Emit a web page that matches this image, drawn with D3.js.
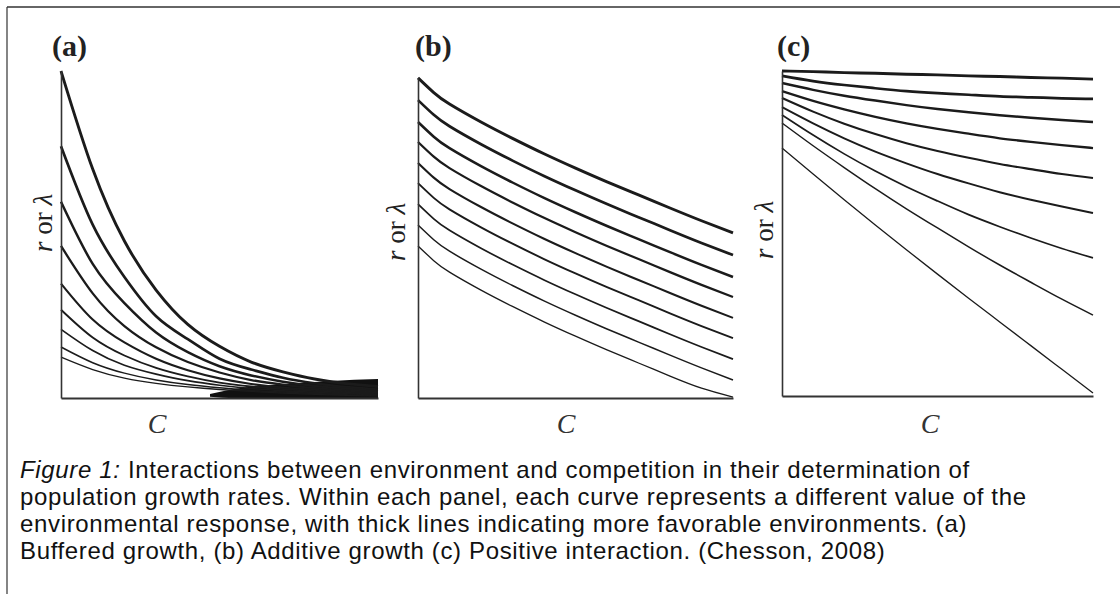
<!DOCTYPE html>
<html lang="en">
<head>
<meta charset="utf-8">
<title>Environment x competition (Chesson 2008)</title>
<script src="https://d3js.org/d3.v7.min.js"></script>
<style>
  body { margin: 0; background: #fff; }
</style>
</head>
<body>
<script>
var W = 1120, H = 594;

// competition C, sampled positions along each curve
var cGridA = [0, 0.1, 0.2, 0.3, 0.4, 0.5, 0.6, 0.7, 0.8, 0.9, 1];
var cGridB = [0, 0.05, 0.1, 0.2, 0.3, 0.4, 0.5, 0.6, 0.7, 0.8, 0.9, 1];
var cGridC = [0, 0.1, 0.2, 0.3, 0.4, 0.5, 0.6, 0.7, 0.8, 0.9, 1];

// (a) buffered growth, r or lambda per curve (most favourable first)
var curvesA = [
  [1.00, 0.70, 0.48, 0.33, 0.225, 0.158, 0.110, 0.080, 0.058, 0.044, 0.035],
  [0.77, 0.53, 0.37, 0.25, 0.180, 0.120, 0.087, 0.062, 0.045, 0.033, 0.026],
  [0.60, 0.41, 0.29, 0.20, 0.140, 0.097, 0.069, 0.050, 0.037, 0.028, 0.021],
  [0.465, 0.32, 0.22, 0.155, 0.110, 0.078, 0.055, 0.041, 0.030, 0.023, 0.018],
  [0.35, 0.24, 0.17, 0.12, 0.085, 0.060, 0.043, 0.032, 0.025, 0.019, 0.015],
  [0.27, 0.185, 0.13, 0.092, 0.066, 0.047, 0.035, 0.027, 0.021, 0.016, 0.012],
  [0.21, 0.145, 0.10, 0.073, 0.053, 0.039, 0.029, 0.022, 0.017, 0.013, 0.010],
  [0.156, 0.108, 0.076, 0.055, 0.041, 0.031, 0.023, 0.018, 0.014, 0.010, 0.008],
  [0.125, 0.087, 0.061, 0.045, 0.034, 0.026, 0.020, 0.015, 0.011, 0.008, 0.006]
];
// the ink smudge under the converging curves of (a): [C, low, high]
var smudgeA = [[0.47, 0.004, 0.012], [0.55, 0.0, 0.028], [0.7, 0.0, 0.042], [0.85, 0.0, 0.052], [1, 0.0, 0.058]];

// (b) additive growth
var curvesB = [
  [0.979, 0.934, 0.899, 0.844, 0.794, 0.747, 0.703, 0.661, 0.621, 0.581, 0.542, 0.505],
  [0.911, 0.866, 0.831, 0.776, 0.726, 0.679, 0.635, 0.593, 0.553, 0.513, 0.474, 0.437],
  [0.844, 0.799, 0.764, 0.709, 0.659, 0.612, 0.568, 0.526, 0.486, 0.446, 0.407, 0.370],
  [0.783, 0.738, 0.703, 0.648, 0.598, 0.551, 0.507, 0.465, 0.425, 0.385, 0.346, 0.309],
  [0.719, 0.674, 0.639, 0.584, 0.534, 0.487, 0.443, 0.401, 0.361, 0.321, 0.282, 0.245],
  [0.657, 0.612, 0.577, 0.522, 0.472, 0.425, 0.381, 0.339, 0.299, 0.259, 0.220, 0.183],
  [0.593, 0.548, 0.513, 0.458, 0.408, 0.361, 0.317, 0.275, 0.235, 0.195, 0.156, 0.119],
  [0.529, 0.484, 0.449, 0.394, 0.344, 0.297, 0.253, 0.211, 0.171, 0.131, 0.092, 0.055],
  [0.465, 0.420, 0.385, 0.330, 0.280, 0.233, 0.189, 0.147, 0.107, 0.067, 0.030, 0.003]
];

// (c) positive interaction
var curvesC = [
  [1.000, 0.998, 0.995, 0.993, 0.990, 0.988, 0.985, 0.983, 0.980, 0.978, 0.975],
  [0.985, 0.969, 0.957, 0.947, 0.938, 0.932, 0.927, 0.922, 0.919, 0.916, 0.914],
  [0.963, 0.942, 0.924, 0.909, 0.895, 0.883, 0.873, 0.864, 0.856, 0.849, 0.843],
  [0.938, 0.908, 0.882, 0.859, 0.839, 0.822, 0.807, 0.793, 0.782, 0.772, 0.763],
  [0.917, 0.875, 0.838, 0.806, 0.778, 0.754, 0.733, 0.714, 0.698, 0.683, 0.671],
  [0.889, 0.839, 0.793, 0.752, 0.716, 0.683, 0.654, 0.627, 0.604, 0.583, 0.563],
  [0.865, 0.803, 0.745, 0.692, 0.644, 0.600, 0.558, 0.521, 0.486, 0.454, 0.425],
  [0.840, 0.770, 0.703, 0.638, 0.576, 0.517, 0.459, 0.403, 0.350, 0.298, 0.249],
  [0.763, 0.683, 0.604, 0.526, 0.450, 0.375, 0.301, 0.228, 0.155, 0.082, 0.009]
];

var panelLabels = ["(a)", "(b)", "(c)"];
var captionLines = [
  ["Figure 1:", " Interactions between environment and competition in their determination of"],
  ["", "population growth rates. Within each panel, each curve represents a different value of the"],
  ["", "environmental response, with thick lines indicating more favorable environments. (a)"],
  ["", "Buffered growth, (b) Additive growth (c) Positive interaction. (Chesson, 2008)"]
];

// panel geometry
var panels = [
  {grid: cGridA, curves: curvesA, left: 61,  right: 378,  bottom: 398, top: 71, label: panelLabels[0], labelX: 52,  ylabX: 52,  ylabY: 223, cX: 157},
  {grid: cGridB, curves: curvesB, left: 418, right: 733,  bottom: 398, top: 71, label: panelLabels[1], labelX: 415, ylabX: 405, ylabY: 232, cX: 566},
  {grid: cGridC, curves: curvesC, left: 782, right: 1093, bottom: 396, top: 71, label: panelLabels[2], labelX: 777, ylabX: 773, ylabY: 230, cX: 930}
];

var svg = d3.select("body").append("svg")
  .attr("width", W)
  .attr("height", H)
  .style("display", "block");

// frame: top and left rules only
svg.append("line").attr("x1", 7).attr("y1", 7).attr("x2", W).attr("y2", 7)
  .attr("stroke", "#333").attr("stroke-width", 1.6);
svg.append("line").attr("x1", 7).attr("y1", 7).attr("x2", 7).attr("y2", H)
  .attr("stroke", "#333").attr("stroke-width", 1.2);

var ink = "#1b1b1b";
var serif = "'Liberation Serif', 'DejaVu Serif', serif";

panels.forEach(function (p, pi) {
  var x = d3.scaleLinear().domain([0, 1]).range([p.left, p.right]);
  var y = d3.scaleLinear().domain([0, 1]).range([p.bottom, p.top]);
  var g = svg.append("g");

  var n = p.curves.length;
  var width = d3.scaleLinear().domain([0, n - 1]).range([2.9, 1.3]);

  if (pi === 0) {
    var area = d3.area()
      .x(function (d) { return x(d[0]); })
      .y0(function (d) { return y(d[1]); })
      .y1(function (d) { return y(d[2]); })
      .curve(d3.curveMonotoneX);
    g.append("path").datum(smudgeA).attr("d", area).attr("fill", "#111");
  }

  var line = d3.line()
    .x(function (d, i) { return x(p.grid[i]); })
    .y(function (d) { return y(d); })
    .curve(d3.curveNatural);

  g.selectAll("path.curve")
    .data(p.curves)
    .enter().append("path")
    .attr("class", "curve")
    .attr("d", line)
    .attr("fill", "none")
    .attr("stroke", ink)
    .attr("stroke-width", function (d, i) { return width(i); })
    .attr("stroke-linecap", "butt");

  // axes: plain lines, no ticks
  var topVal = d3.max(p.curves, function (c) { return c[0]; });
  var yAxisScale = d3.scaleLinear().domain([0, topVal]).range([y(0), y(topVal)]);
  g.append("g")
    .attr("transform", "translate(" + p.left + ",0)")
    .call(d3.axisLeft(yAxisScale).ticks(0).tickSizeOuter(0))
    .call(function (a) { a.select(".domain").attr("stroke", "#333").attr("stroke-width", 1.6); });
  g.append("g")
    .attr("transform", "translate(0," + p.bottom + ")")
    .call(d3.axisBottom(x).ticks(0).tickSizeOuter(0))
    .call(function (a) { a.select(".domain").attr("stroke", "#333").attr("stroke-width", 1.8); });

  g.append("text")
    .attr("x", p.labelX).attr("y", 56)
    .attr("font-family", serif).attr("font-weight", "bold").attr("font-size", 30)
    .attr("fill", "#222")
    .text(p.label);

  var yl = g.append("text")
    .attr("transform", "translate(" + p.ylabX + "," + p.ylabY + ") rotate(-90)")
    .attr("text-anchor", "middle")
    .attr("font-family", serif).attr("font-size", 27).attr("fill", "#222");
  yl.append("tspan").attr("font-style", "italic").text("r");
  yl.append("tspan").text(" or ");
  yl.append("tspan").attr("font-style", "italic").text("\u03bb");

  g.append("text")
    .attr("x", p.cX).attr("y", 433)
    .attr("text-anchor", "middle")
    .attr("font-family", serif).attr("font-style", "italic").attr("font-size", 28)
    .attr("fill", "#333")
    .text("C");
});

// caption
var cap = svg.append("g")
  .attr("font-family", "'Liberation Sans', Arial, sans-serif")
  .attr("font-size", 24)
  .attr("letter-spacing", 0.65)
  .attr("fill", "#111");
captionLines.forEach(function (ln, i) {
  var t = cap.append("text").attr("x", 20).attr("y", 478 + i * 27);
  if (ln[0]) t.append("tspan").attr("font-style", "italic").text(ln[0]);
  t.append("tspan").text(ln[1]);
});
</script>
</body>
</html>
